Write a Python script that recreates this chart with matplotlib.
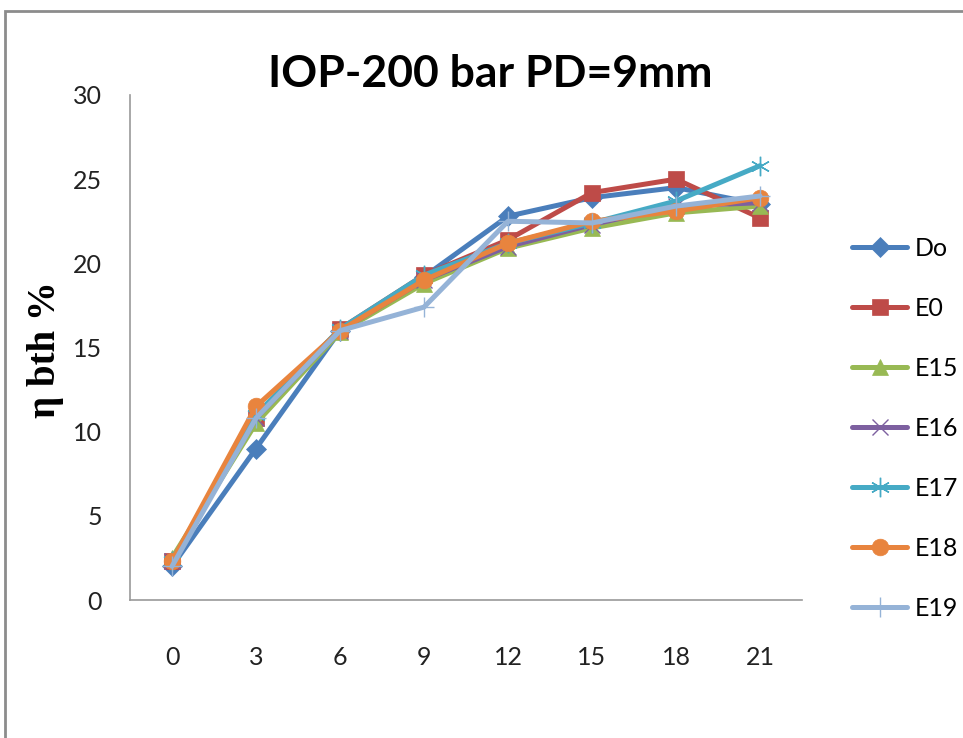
import matplotlib
matplotlib.use("Agg")
import matplotlib.pyplot as plt
from matplotlib.patches import Rectangle

# fuel injection timing steps on the x axis
x_labels = ["0", "3", "6", "9", "12", "15", "18", "21"]

series_names = ["Do", "E0", "E15", "E16", "E17", "E18", "E19"]
do_vals = [2.0, 9.0, 16.0, 19.2, 22.8, 23.9, 24.5, 23.5]
e0_vals = [2.3, 10.8, 16.1, 19.3, 21.4, 24.2, 25.0, 22.7]
e15_vals = [2.5, 10.5, 15.9, 18.8, 20.9, 22.1, 23.0, 23.4]
e16_vals = [2.3, 10.8, 16.0, 19.0, 21.0, 22.3, 23.4, 23.6]
e17_vals = [2.3, 11.0, 16.1, 19.3, 21.2, 22.4, 23.7, 25.8]
e18_vals = [2.3, 11.5, 16.0, 19.0, 21.2, 22.5, 23.1, 23.9]
e19_vals = [2.0, 10.8, 16.0, 17.4, 22.5, 22.4, 23.4, 24.0]

y_ticks = [0, 5, 10, 15, 20, 25, 30]

colors = ["#4A7EBB", "#BE4B48", "#98B954", "#7D60A0", "#46AAC5", "#E8843E", "#95B3D7"]
markers = ["D", "s", "^", "x", (6, 2, 0), "o", "+"]
msizes = [10, 12, 12, 12, 14, 12, 14]

sans = ["Lato", "DejaVu Sans"]
plt.rcParams["font.family"] = sans

fig = plt.figure(figsize=(9.63, 7.38), dpi=100)
ax = fig.add_axes([130 / 963, 1 - 600 / 738, 672 / 963, 505 / 738])

all_vals = [do_vals, e0_vals, e15_vals, e16_vals, e17_vals, e18_vals, e19_vals]
pos = list(range(len(x_labels)))
for name, vals, c, m, ms in zip(series_names, all_vals, colors, markers, msizes):
    thin = m in ("x", "+") or isinstance(m, tuple)
    ax.plot(pos, vals, color=c, lw=3.6, marker=m, markersize=ms,
            markerfacecolor=c, markeredgecolor=c,
            markeredgewidth=1.0 if thin else 0.5,
            solid_joinstyle="round", solid_capstyle="round", label=name)

ax.set_xlim(-0.5, len(x_labels) - 0.5)
ax.set_ylim(0, 30)
ax.set_xticks(pos)
ax.set_xticklabels(x_labels)
ax.set_yticks(y_ticks)
ax.tick_params(length=0, labelsize=18, colors="#222222")
ax.tick_params(axis="x", pad=33)
ax.tick_params(axis="y", pad=20)
for s in ["top", "right"]:
    ax.spines[s].set_visible(False)
for s in ["left", "bottom"]:
    ax.spines[s].set_color("#999999")
    ax.spines[s].set_linewidth(1.2)

fig.text(490 / 963, 1 - 74 / 738, "IOP-200 bar PD=9mm", ha="center", va="center",
         fontsize=32, fontweight="bold", family=sans)
fig.text(45 / 963, 1 - 350 / 738, "\u03b7 bth %", rotation=90, ha="center", va="center",
         fontsize=28, fontweight="bold", family=["Liberation Serif", "DejaVu Serif"])

leg = ax.legend(loc="center left", bbox_to_anchor=(842 / 963, 1 - 428 / 738),
                bbox_transform=fig.transFigure, frameon=False, fontsize=18,
                handlelength=2.2, handletextpad=0.3, labelspacing=1.48,
                borderaxespad=0)

# outer chart frame, cut off at the right and bottom edges
fig.patches.append(Rectangle((5 / 963, -0.05), 1.2, 1.05 - 11 / 738,
                             transform=fig.transFigure, fill=False,
                             edgecolor="#8C8C8C", lw=2.0))

fig.savefig("out.png", dpi=100)
